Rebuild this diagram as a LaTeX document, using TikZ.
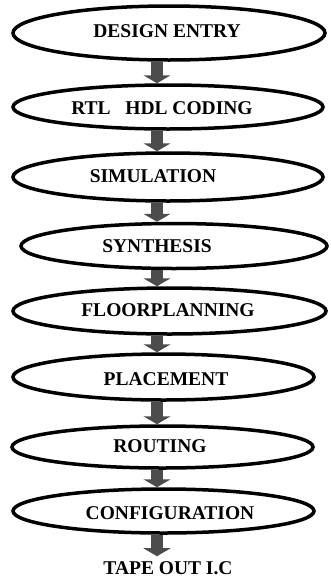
\documentclass[tikz,border=0pt]{standalone}
\usepackage{fontspec}
\setmainfont{Liberation Serif}
\usetikzlibrary{shapes.geometric,arrows.meta}

\begin{document}
\begin{tikzpicture}[x=1pt, y=-1pt,
    stage/.style={draw, ellipse, line width=3.5pt, inner sep=0pt},
    stagetext/.style={font=\fontsize{19.5}{22}\selectfont\bfseries, inner sep=0pt},
    flowarrow/.style={line width=12pt, black!70, -{Triangle[width=27pt,length=8pt]}}]
    \useasboundingbox (0,0) rectangle (330,581);

    % stages
    \node[stage, minimum width=312pt, minimum height=54pt] (entry) at (169, 33) {};
    \node[stage, minimum width=310pt, minimum height=44pt] (rtl) at (168, 107) {};
    \node[stage, minimum width=310pt, minimum height=48pt] (sim) at (168, 177) {};
    \node[stage, minimum width=306pt, minimum height=45pt] (synth) at (174, 246) {};
    \node[stage, minimum width=313pt, minimum height=46pt] (floor) at (169.5, 311) {};
    \node[stage, minimum width=301pt, minimum height=46pt] (place) at (163.5, 377) {};
    \node[stage, minimum width=301pt, minimum height=42pt] (route) at (162.5, 447) {};
    \node[stage, minimum width=301pt, minimum height=44pt] (config) at (163.5, 511) {};

    % texts
    \node[stagetext] (entrytxt) at (167, 31.5) {DESIGN ENTRY};
    \node[stagetext] (rtltxt) at (162, 108) {RTL\ \ \ HDL CODING};
    \node[stagetext] (simtxt) at (153, 176) {SIMULATION};
    \node[stagetext] (synthtxt) at (157, 246) {SYNTHESIS};
    \node[stagetext] (floortxt) at (168, 310) {FLOORPLANNING};
    \node[stagetext] (placetxt) at (166, 379) {PLACEMENT};
    \node[stagetext] (routetxt) at (160, 446) {ROUTING};
    \node[stagetext] (configtxt) at (170, 513) {CONFIGURATION};
    \node[stagetext] (tapeout) at (168, 568) {TAPE OUT I.C};

    % flow
    \coordinate (axis) at (157, 0);
    \coordinate (tapetop) at ([yshift=5pt]tapeout.north);
    \draw[flowarrow] (entry.south -| axis) -- (rtl.north -| axis);
    \draw[flowarrow] (rtl.south -| axis) -- (sim.north -| axis);
    \draw[flowarrow] (sim.south -| axis) -- (synth.north -| axis);
    \draw[flowarrow] (synth.south -| axis) -- (floor.north -| axis);
    \draw[flowarrow] (floor.south -| axis) -- (place.north -| axis);
    \draw[flowarrow] (place.south -| axis) -- (route.north -| axis);
    \draw[flowarrow] (route.south -| axis) -- (config.north -| axis);
    \draw[flowarrow] (config.south -| axis) -- (tapetop -| axis);

\end{tikzpicture}
\end{document}
